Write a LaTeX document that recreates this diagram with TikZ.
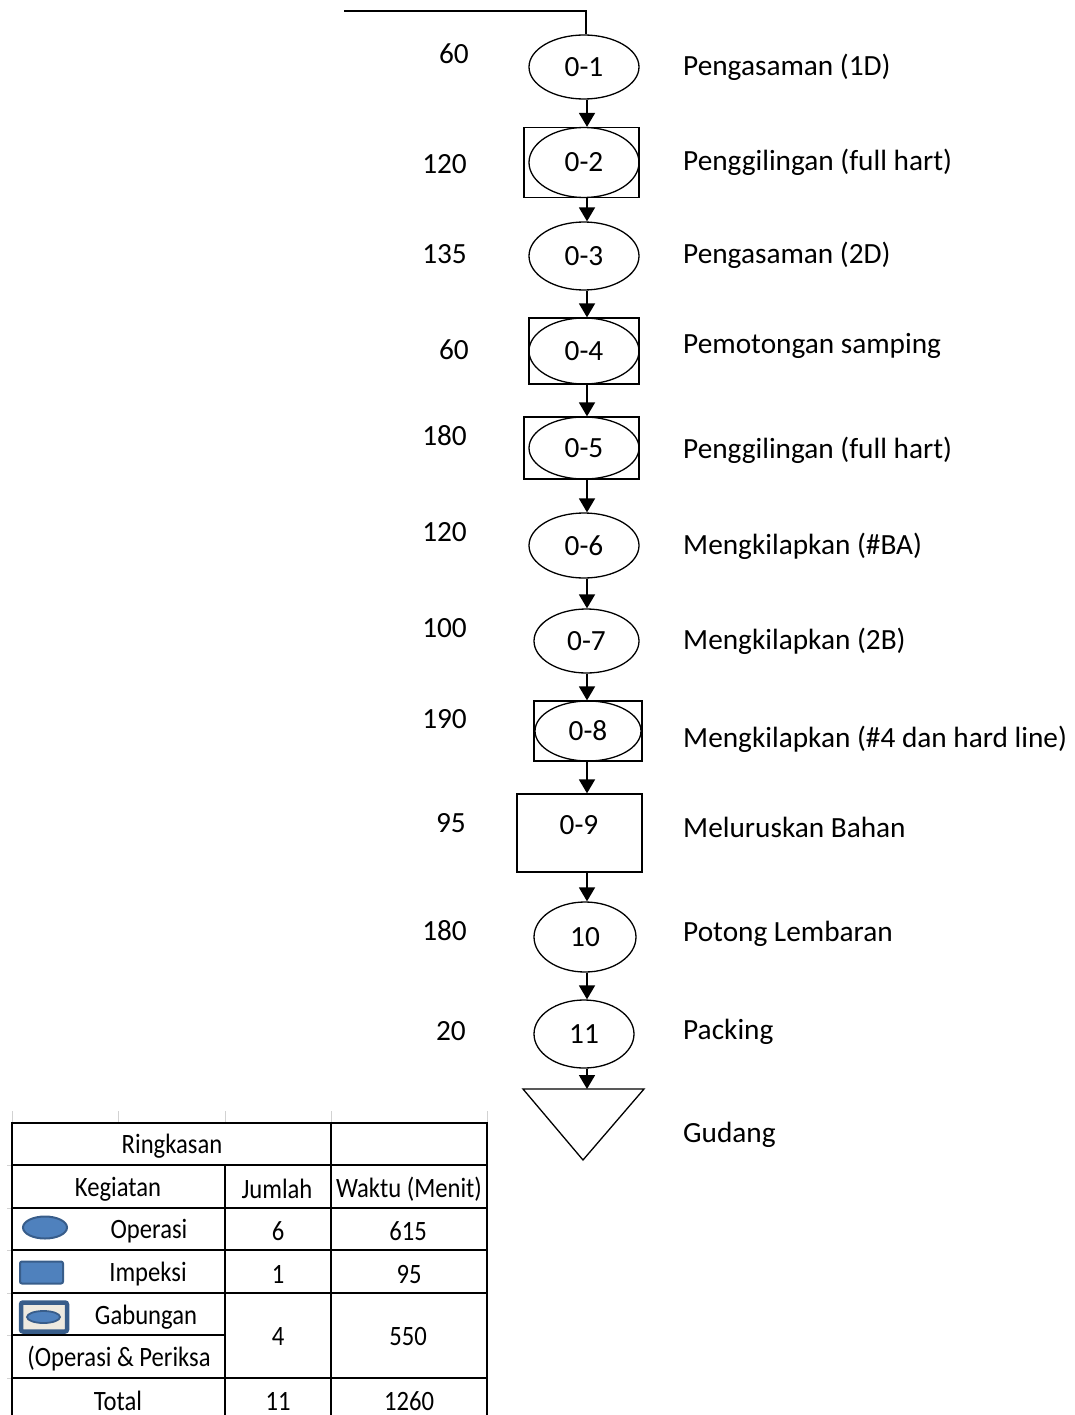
\documentclass[tikz,border=0pt]{standalone}
\usepackage{fontspec}
\setmainfont{Carlito}
\newfontfamily\tabfont[FakeStretch=0.88]{Carlito}
\usetikzlibrary{shapes.geometric,arrows.meta}
\definecolor{iconfill}{RGB}{79,129,189}
\definecolor{iconline}{RGB}{56,93,138}
\definecolor{iconbeige}{RGB}{238,234,224}
\begin{document}
\begin{tikzpicture}[x=1pt,y=-1pt,
  txt/.style={font=\fontsize{29.3}{34}\selectfont},
  opnode/.style={draw, ellipse, line width=1.3pt, inner sep=0pt, txt},
  boxnode/.style={draw, rectangle, line width=1.3pt, inner sep=0pt},
  arr/.style={line width=1.8pt, -{Triangle[length=14pt,width=16pt]}},
  num/.style={anchor=east, inner sep=0pt, txt},
  desc/.style={anchor=west, inner sep=0pt, txt},
  tline/.style={line width=1.3pt},
  tgrid/.style={line width=0.8pt, gray!35},
  ttxt/.style={inner sep=0pt, font=\tabfont\fontsize{28}{32}\selectfont},
]
\useasboundingbox (0,0) rectangle (1075,1415);

% flow nodes
\node[opnode, minimum width=110pt, minimum height=64pt] (op1) at (584,67) {0-1};
\node[boxnode, minimum width=115pt, minimum height=70pt] (b2) at (581.5,162.5) {};
\node[opnode, minimum width=110pt, minimum height=70pt] (op2) at (584,162.5) {0-2};
\node[opnode, minimum width=110pt, minimum height=68pt] (op3) at (584,256) {0-3};
\node[boxnode, minimum width=110pt, minimum height=66pt] (b4) at (584,351) {};
\node[opnode, minimum width=110pt, minimum height=66pt] (op4) at (584,351) {0-4};
\node[boxnode, minimum width=115pt, minimum height=62pt] (b5) at (581.5,448) {};
\node[opnode, minimum width=110pt, minimum height=62pt] (op5) at (584,448) {0-5};
\node[opnode, minimum width=110pt, minimum height=65pt] (op6) at (584,545.5) {0-6};
\node[opnode, minimum width=105pt, minimum height=64pt] (op7) at (586.5,641) {0-7};
\node[boxnode, minimum width=108pt, minimum height=60pt] (b8) at (588,731) {};
\node[opnode, minimum width=106pt, minimum height=60pt] (op8) at (588,731) {0-8};
\node[boxnode, minimum width=125pt, minimum height=78pt] (b9) at (579.5,833) {};
\node[inner sep=0pt, txt] (t9) at (579,825) {0-9};
\node[opnode, minimum width=102pt, minimum height=70pt] (op10) at (585,937) {10};
\node[opnode, minimum width=100pt, minimum height=68pt] (op11) at (584,1034) {11};
\coordinate (tri) at (587,1089);
\draw[tline] (523,1089) -- (644,1089) -- (583,1160) -- cycle;

% connectors
\coordinate (start) at (344,11);
\coordinate (corner) at (586,11);
\draw[line width=1.3pt] (start) -- (corner) -- (corner |- op1.north);
\draw[arr] (587,0 |- op1.south) -- (587,0 |- b2.north);
\draw[arr] (587,0 |- b2.south) -- (587,0 |- op3.north);
\draw[arr] (587,0 |- op3.south) -- (587,0 |- b4.north);
\draw[arr] (587,0 |- b4.south) -- (587,0 |- b5.north);
\draw[arr] (587,0 |- b5.south) -- (587,0 |- op6.north);
\draw[arr] (587,0 |- op6.south) -- (587,0 |- op7.north);
\draw[arr] (587,0 |- op7.south) -- (587,0 |- b8.north);
\draw[arr] (587,0 |- b8.south) -- (587,0 |- b9.north);
\draw[arr] (587,0 |- b9.south) -- (587,0 |- op10.north);
\draw[arr] (587,0 |- op10.south) -- (587,0 |- op11.north);
\draw[arr] (587,0 |- op11.south) -- (tri);

% times
\node[num] (n1) at (469,54) {60};
\node[num] (n2) at (467,164) {120};
\node[num] (n3) at (467,254) {135};
\node[num] (n4) at (469,350) {60};
\node[num] (n5) at (467,436) {180};
\node[num] (n6) at (467,532) {120};
\node[num] (n7) at (467,628) {100};
\node[num] (n8) at (467,719) {190};
\node[num] (n9) at (466,823) {95};
\node[num] (n10) at (467,931) {180};
\node[num] (n11) at (466,1031) {20};

% descriptions
\node[desc] (d1) at (683,67) {Pengasaman (1D)};
\node[desc] (d2) at (683,162) {Penggilingan (full hart)};
\node[desc] (d3) at (683,255) {Pengasaman (2D)};
\node[desc] (d4) at (683,346) {Pemotongan samping};
\node[desc] (d5) at (683,450) {Penggilingan (full hart)};
\node[desc] (d6) at (683,546) {Mengkilapkan (\#BA)};
\node[desc] (d7) at (683,641) {Mengkilapkan (2B)};
\node[desc] (d8) at (683,739) {Mengkilapkan (\#4 dan hard line)};
\node[desc] (d9) at (683,827) {Meluruskan Bahan};
\node[desc] (d10) at (683,934) {Potong Lembaran};
\node[desc] (d11) at (683,1032) {Packing};
\node[desc] (d12) at (683,1135) {Gudang};

% table faint grid
\foreach \x in {12,118,225,331,487} \draw[tgrid] (\x,1111) -- (\x,1123);
\foreach \y in {1165,1208,1250,1293,1335,1378} \draw[tgrid] (7,\y) -- (12,\y);

% table lines
\draw[tline] (12,1415) -- (12,1123) -- (487,1123) -- (487,1415);
\draw[tline] (331,1123) -- (331,1415);
\draw[tline] (225,1165) -- (225,1415);
\foreach \y in {1165,1208,1250,1293,1378} \draw[tline] (12,\y) -- (487,\y);
\draw[tline] (12,1335) -- (225,1335);

% table icons
\node[draw=iconline, fill=iconfill, line width=2pt, ellipse, minimum width=44pt, minimum height=22pt, inner sep=0pt] (iop) at (45,1227.5) {};
\node[draw=iconline, fill=iconfill, line width=2pt, rounded corners=2pt, minimum width=43pt, minimum height=22pt, inner sep=0pt] (iin) at (41.5,1272.5) {};
\node[draw=iconline, fill=iconbeige, line width=4.5pt, rounded corners=2pt, minimum width=46pt, minimum height=29pt, inner sep=0pt] (igb) at (44,1317) {};
\node[draw=iconline, fill=iconfill, line width=1.8pt, ellipse, minimum width=33pt, minimum height=12pt, inner sep=0pt] (igbe) at (43.5,1317) {};

% table text
\node[ttxt] (r1) at (172,1146) {Ringkasan};
\node[ttxt] (h1) at (118,1189) {Kegiatan};
\node[ttxt] (h2) at (277,1189) {Jumlah};
\node[ttxt] (h3) at (409,1189) {Waktu (Menit)};
\node[ttxt] (o1) at (149,1231) {Operasi};
\node[ttxt] (o2) at (278,1231) {6};
\node[ttxt] (o3) at (408,1231) {615};
\node[ttxt] (i1) at (148,1274) {Impeksi};
\node[ttxt] (i2) at (278,1274) {1};
\node[ttxt] (i3) at (409,1274) {95};
\node[ttxt] (g1) at (146,1317) {Gabungan};
\node[ttxt] (g1b) at (119,1359) {(Operasi \& Periksa};
\node[ttxt] (g2) at (278,1336) {4};
\node[ttxt] (g3) at (408,1336) {550};
\node[ttxt] (t1) at (118,1401) {Total};
\node[ttxt] (t2) at (278,1401) {11};
\node[ttxt] (t3) at (409,1401) {1260};
\end{tikzpicture}
\end{document}
